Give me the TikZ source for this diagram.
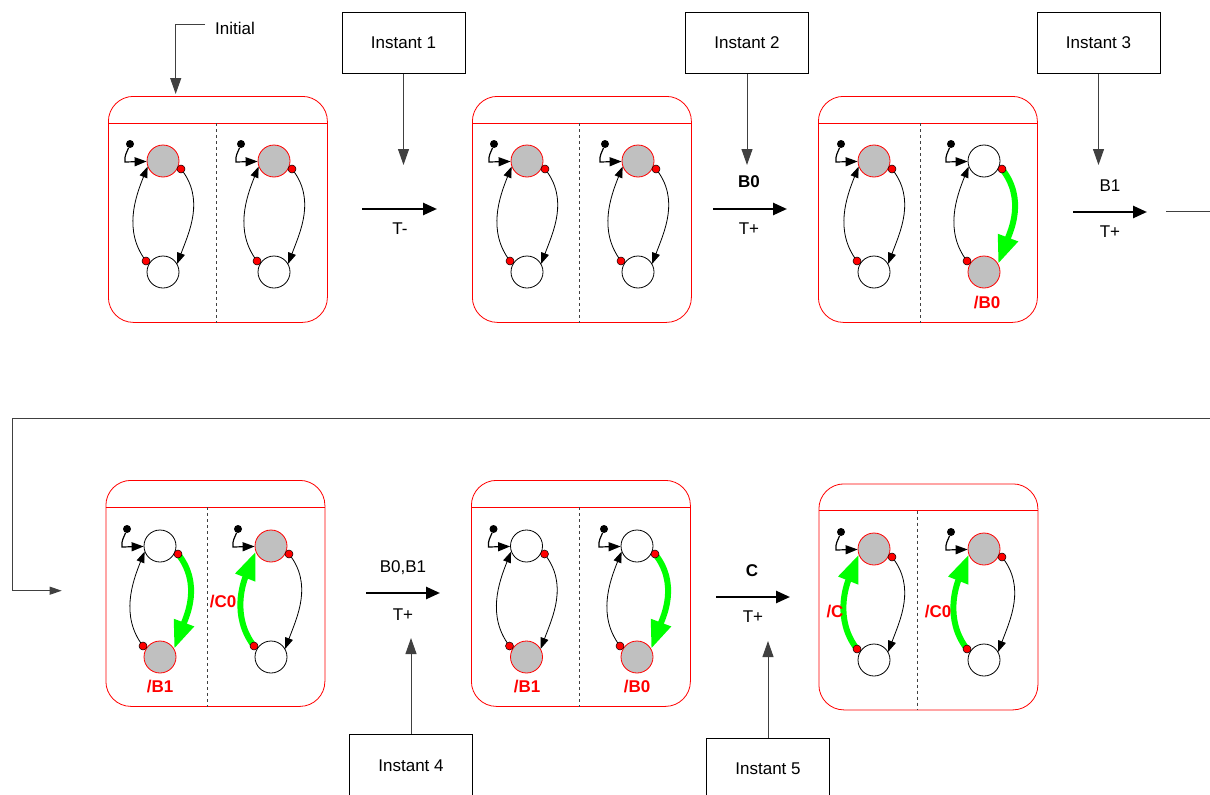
\documentclass[tikz,border=0pt]{standalone}
\usepackage{fontspec}
\setmainfont{Liberation Sans}
\usepackage{tikz}
\usetikzlibrary{arrows.meta,calc,positioning}

\definecolor{stategray}{HTML}{C0C0C0}
\definecolor{firegreen}{HTML}{00FF00}
\definecolor{wiregray}{HTML}{404040}

\tikzset{
    activestate/.style={circle, draw=red, fill=stategray, minimum size=32pt, inner sep=0pt, line width=0.8pt},
    idlestate/.style={circle, draw=black, fill=white, minimum size=32pt, inner sep=0pt, line width=0.8pt},
    initdot/.style={circle, fill=black, minimum size=8pt, inner sep=0pt},
    reddot/.style={circle, draw=black, fill=red, minimum size=8pt, inner sep=0pt, line width=0.5pt},
    blackarc/.style={-{Triangle[length=11pt,width=8pt]}, line width=0.8pt},
    greenarc/.style={-{Triangle[length=28pt,width=20pt]}, line width=6pt, draw=firegreen},
    initarrow/.style={-{Triangle[length=12pt,width=9pt]}, line width=1.2pt},
    statebox/.style={draw=red, rounded corners=25pt, minimum width=219pt, minimum height=226pt, inner sep=0pt, line width=0.8pt},
    divider/.style={draw=wiregray, dashed, line width=0.8pt},
    mainarrow/.style={-{Triangle[length=14pt,width=12pt]}, line width=2.5pt},
    wire/.style={draw=wiregray, line width=1pt, -{Triangle[length=16pt,width=11pt]}},
    instant/.style={draw=black, minimum width=123pt, minimum height=61pt, line width=1pt},
    redlabel/.style={text=red, font=\fontsize{17}{20}\selectfont\bfseries}
}

% one state machine: name, x, y of upper state, upper style, lower style, right arc, left arc
\newcommand{\drawfsm}[7]{%
    \node[#4] (#1t) at (#2,#3) {};
    \node[#5] (#1b) at (#2,#3+111) {};
    \node[initdot] (#1i) at (#2-33,#3-17) {};
    \coordinate (#1r) at (#2+18,#3+8);
    \coordinate (#1l) at (#2-17,#3+100);
    \draw[initarrow] (#1i) .. controls +(-3,8) and +(-1,-6) .. (#2-38,#3+1) -- (#1t);
    \draw[#6] (#1r) .. controls +(24,30) and +(12,-32) .. (#1b.30);
    \draw[#7] (#1l) .. controls +(-23,-30) and +(-12,30) .. (#1t.200);
    \node[reddot] (#1rd) at (#1r) {};
    \node[reddot] (#1ld) at (#1l) {};
}
% container: name, x, y of north west corner, divider offset
\newcommand{\drawbox}[4]{%
    \node[statebox, anchor=north west] (#1) at (#2,#3) {};
    \draw[red, line width=0.8pt] ([yshift=-27pt]#1.north west) -- ([yshift=-27pt]#1.north east);
    \draw[divider] ([xshift=#4pt,yshift=-27pt]#1.north west) -- ([xshift=#4pt]#1.south west);
}

\begin{document}
\begin{tikzpicture}[x=1pt, y=-1pt, font=\fontsize{17}{20}\selectfont]
\useasboundingbox (0,0) rectangle (1210,795);
\clip (0,0) rectangle (1210,795);

%containers
\drawbox{box1}{108}{96}{108}
\drawbox{box2}{472}{96}{107}
\drawbox{box3}{818}{96}{102}
\drawbox{box4}{105.5}{480}{101.5}
\drawbox{box5}{471}{480}{108}
\drawbox{box6}{818.5}{483.5}{98.5}

%state machines
\drawfsm{m1L}{163}{161}{activestate}{idlestate}{blackarc}{blackarc}
\drawfsm{m1R}{274}{161}{activestate}{idlestate}{blackarc}{blackarc}
\drawfsm{m2L}{527}{161}{activestate}{idlestate}{blackarc}{blackarc}
\drawfsm{m2R}{638}{161}{activestate}{idlestate}{blackarc}{blackarc}
\drawfsm{m3L}{874}{161}{activestate}{idlestate}{blackarc}{blackarc}
\drawfsm{m3R}{984}{161}{idlestate}{activestate}{greenarc}{blackarc}
\drawfsm{m4L}{160}{546}{idlestate}{activestate}{greenarc}{blackarc}
\drawfsm{m4R}{271}{546}{activestate}{idlestate}{blackarc}{greenarc}
\drawfsm{m5L}{526.5}{546}{idlestate}{activestate}{blackarc}{blackarc}
\drawfsm{m5R}{637}{546}{idlestate}{activestate}{greenarc}{blackarc}
\drawfsm{m6L}{874}{549}{activestate}{idlestate}{blackarc}{greenarc}
\drawfsm{m6R}{984}{549}{activestate}{idlestate}{blackarc}{greenarc}

%outputs
\node[redlabel] (o3R) at (987,303) {/B0};
\node[redlabel] (o4L) at (160,687) {/B1};
\node[redlabel] (o4R) at (223,602) {/C0};
\node[redlabel] (o5L) at (527,687) {/B1};
\node[redlabel] (o5R) at (637,687) {/B0};
\node[redlabel] (o6L) at (835,612) {/C};
\node[redlabel] (o6R) at (938,612) {/C0};

%initial
\node (initlab) at (235,28) {Initial};
\coordinate (initS) at (205,24.5);
\coordinate (initE) at (175.7,94);
\draw[wire] (initS) -| (initE);

%transitions
\coordinate (a1s) at (362,209);  \coordinate (a1e) at (437,209);
\coordinate (a2s) at (713,209);  \coordinate (a2e) at (787,209);
\coordinate (a3s) at (1073,212); \coordinate (a3e) at (1147,212);
\coordinate (a4s) at (366,593);  \coordinate (a4e) at (440,593);
\coordinate (a5s) at (716,597);  \coordinate (a5e) at (790,597);
\draw[mainarrow] (a1s) -- (a1e);
\draw[mainarrow] (a2s) -- (a2e);
\draw[mainarrow] (a3s) -- (a3e);
\draw[mainarrow] (a4s) -- (a4e);
\draw[mainarrow] (a5s) -- (a5e);
\node (t1) at (400,229) {T-};
\node[font=\fontsize{17}{20}\selectfont\bfseries] (e2) at (749,182) {B0};
\node (t2) at (749,229) {T+};
\node (e3) at (1110,186) {B1};
\node (t3) at (1110,232) {T+};
\node (e4) at (403,568) {B0,B1};
\node (t4) at (403,615) {T+};
\node[font=\fontsize{17}{20}\selectfont\bfseries] (e5) at (752,571) {C};
\node (t5) at (753,617) {T+};

%instants
\node[instant] (inst1) at (403.5,43) {Instant 1};
\node[instant] (inst2) at (747,43) {Instant 2};
\node[instant] (inst3) at (1098.5,43) {Instant 3};
\node[instant, minimum height=64pt] (inst4) at (411,766) {Instant 4};
\node[instant, minimum height=62pt] (inst5) at (768,769) {Instant 5};
\coordinate (tip1) at (403.5,165);
\coordinate (tip2) at (747,165);
\coordinate (tip3) at (1098.5,165);
\coordinate (tip4) at (411,638);
\coordinate (tip5) at (768,641);
\draw[wire] (inst1) -- (tip1);
\draw[wire] (inst2) -- (tip2);
\draw[wire] (inst3) -- (tip3);
\draw[wire] (inst4) -- (tip4);
\draw[wire] (inst5) -- (tip5);

%wrap to second row
\coordinate (wrapA) at (1166,211);
\coordinate (wrapB) at (1215,211);
\coordinate (wrapC) at (1215,418);
\coordinate (wrapD) at (12.7,418);
\coordinate (wrapE) at (61.7,590.7);
\draw[draw=wiregray, line width=1pt] (wrapA) -- (wrapB);
\draw[draw=wiregray, line width=1pt, -{Triangle[length=12pt,width=8pt]}] (wrapC) -- (wrapD) |- (wrapE);

\end{tikzpicture}
\end{document}
